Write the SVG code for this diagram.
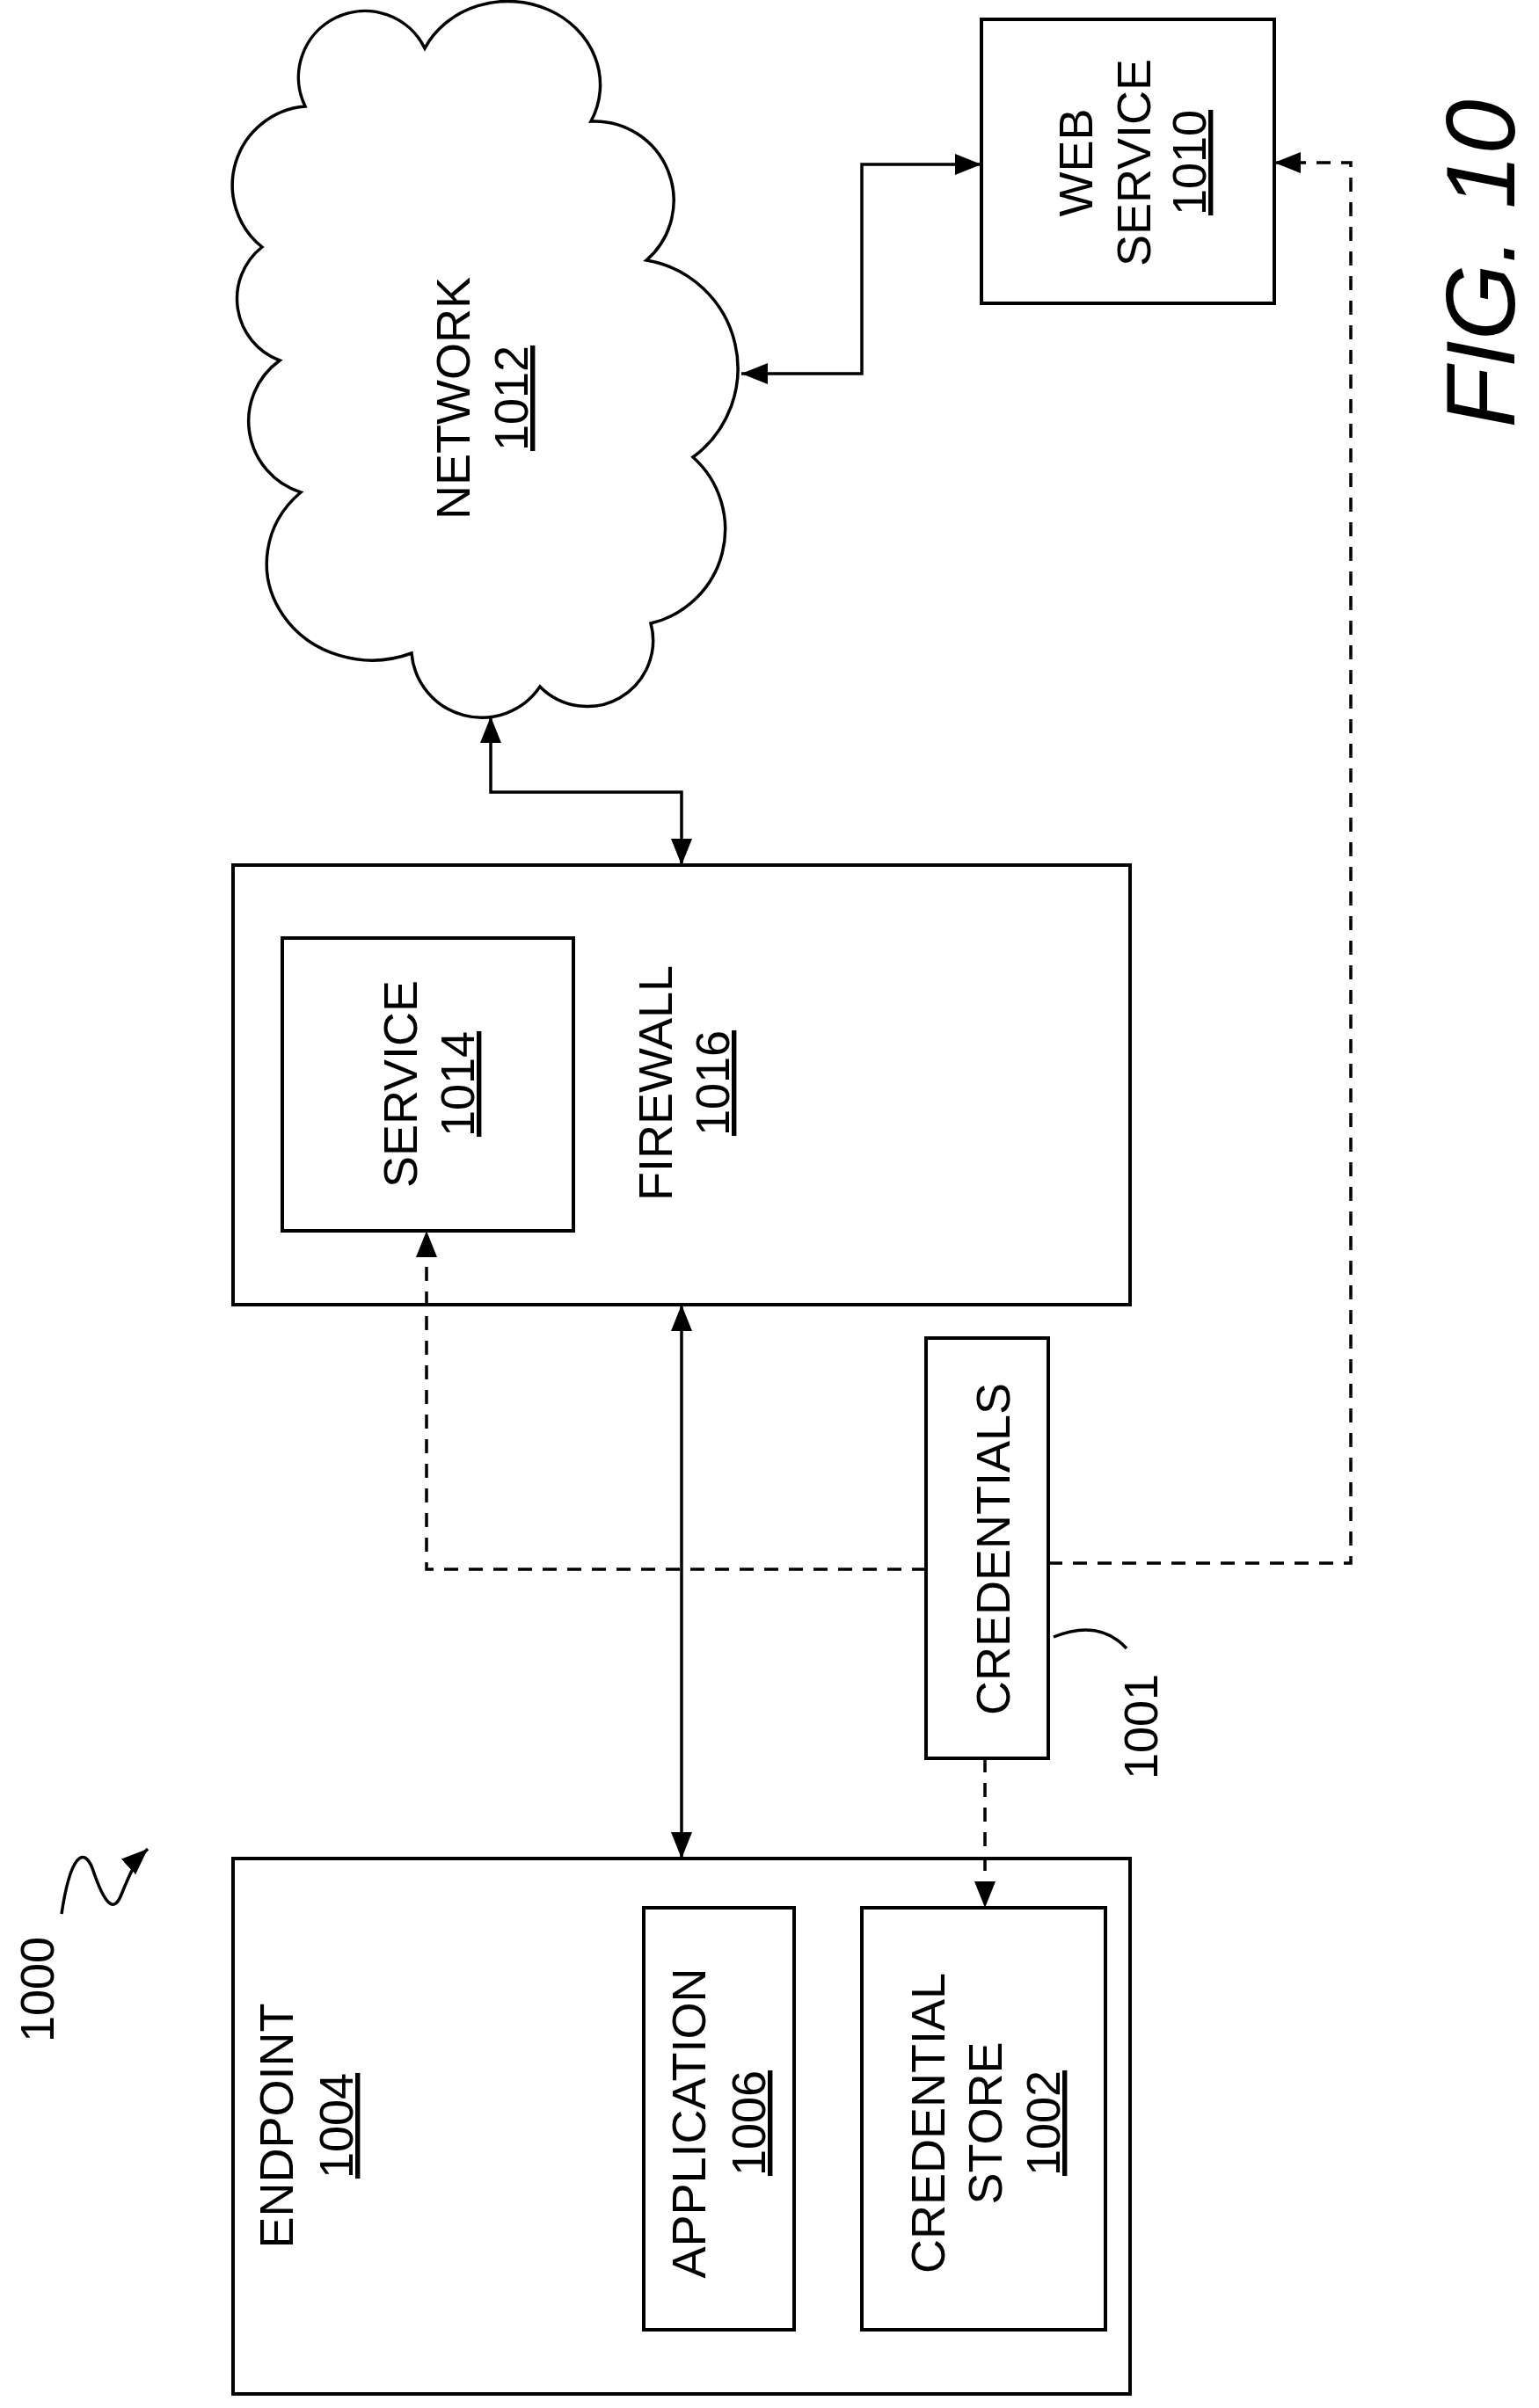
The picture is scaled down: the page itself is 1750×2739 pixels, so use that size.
<svg xmlns="http://www.w3.org/2000/svg" width="1750" height="2739" viewBox="0 0 1750 2739">
<style>
.b{fill:none;stroke:#000;stroke-width:4}
.c{fill:none;stroke:#000;stroke-width:3.5}
.d{fill:none;stroke:#000;stroke-width:3.5;stroke-dasharray:16 12}
text{font-family:"Liberation Sans",Arial,sans-serif;font-size:54px;fill:#000;text-anchor:middle}
.u{text-decoration:underline}
</style>
<defs>
<marker id="a" markerUnits="userSpaceOnUse" markerWidth="32" markerHeight="24" refX="30" refY="12" orient="auto-start-reverse"><path d="M0,0 L30,12 L0,24 Z" fill="#000"/></marker>
</defs>
<rect width="1750" height="2739" fill="#fff"/>
<g id="network">
<path class="c" d="M347,121 A75,75 0 0 1 483,55 A105,95 0 0 1 672,138 A90,90 0 0 1 735,296 A125,125 0 0 1 788,520 A110,110 0 0 1 740,709 A75,75 0 0 1 614,781 A80,80 0 0 1 468,743 A120,110 0 0 1 342,560 A85,85 0 0 1 318,410 A75,75 0 0 1 298,281 A90,90 0 0 1 347,121 Z"/>
<text transform="translate(534,453) rotate(-90)">NETWORK<tspan x="0" dy="66" class="u">1012</tspan></text>
</g>
<g id="webservice">
<rect class="b" x="1116" y="22" width="333" height="323"/>
<text transform="translate(1242,185) rotate(-90)">WEB<tspan x="0" dy="66">SERVICE</tspan><tspan x="0" dy="63" class="u">1010</tspan></text>
</g>
<g id="firewall">
<rect class="b" x="265" y="984" width="1020" height="500"/>
<text transform="translate(764,1232) rotate(-90)">FIREWALL<tspan x="0" dy="65" class="u">1016</tspan></text>
</g>
<g id="service">
<rect class="b" x="321" y="1067" width="331" height="333"/>
<text transform="translate(474,1233) rotate(-90)">SERVICE<tspan x="0" dy="65" class="u">1014</tspan></text>
</g>
<g id="credentials">
<rect class="b" x="1053" y="1522" width="139" height="478"/>
<text transform="translate(1148,1762) rotate(-90)">CREDENTIALS</text>
</g>
<g id="label1001">
<path class="c" d="M1198,1862 Q1250,1841 1281,1875"/>
<text transform="translate(1316,1964) rotate(-90)">1001</text>
</g>
<g id="endpoint">
<rect class="b" x="265" y="2114" width="1020" height="609"/>
<text transform="translate(333,2418) rotate(-90)">ENDPOINT<tspan x="0" dy="68" class="u">1004</tspan></text>
</g>
<g id="application">
<rect class="b" x="732" y="2170" width="171" height="480"/>
<text transform="translate(802,2415) rotate(-90)">APPLICATION<tspan x="0" dy="68" class="u">1006</tspan></text>
</g>
<g id="credstore">
<rect class="b" x="980" y="2170" width="277" height="480"/>
<text transform="translate(1074,2415) rotate(-90)">CREDENTIAL<tspan x="0" dy="65">STORE</tspan><tspan x="0" dy="66" class="u">1002</tspan></text>
</g>
<g id="label1000">
<text transform="translate(61,2263) rotate(-90)">1000</text>
<path class="c" d="M70,2177 C80,2110 95,2100 105,2125 C120,2170 130,2175 138,2155 C148,2130 155,2115 168,2103" marker-end="url(#a)"/>
</g>
<g id="connectors">
<path class="c" d="M843,425 L980,425 L980,187 L1116,187" marker-start="url(#a)" marker-end="url(#a)"/>
<path class="c" d="M558,815 L558,901 L775,901 L775,984" marker-start="url(#a)" marker-end="url(#a)"/>
<path class="c" d="M775,1484 L775,2114" marker-start="url(#a)" marker-end="url(#a)"/>
<path class="d" d="M1053,1785 L485,1785 L485,1400" marker-end="url(#a)"/>
<path class="d" d="M1192,1778 L1536,1778 L1536,185 L1449,185" marker-end="url(#a)"/>
<path class="d" d="M1120,2000 L1120,2170" marker-end="url(#a)"/>
</g>
<text transform="translate(1722,300) rotate(-90)" style="font-size:112px;font-style:italic">FIG. 10</text>
</svg>
